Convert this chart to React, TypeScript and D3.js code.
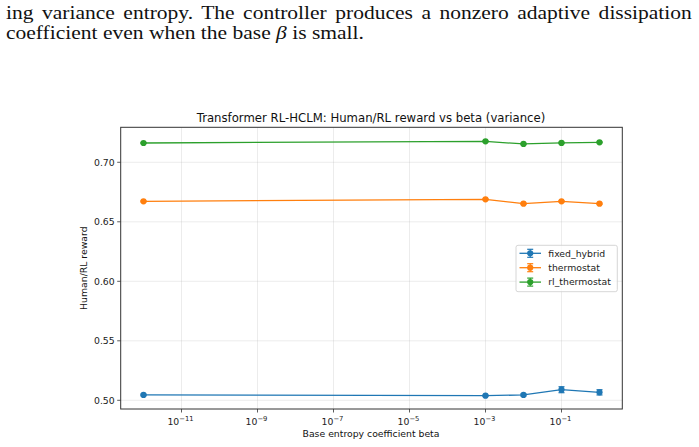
import React, { useLayoutEffect, useRef, useState } from 'react';
import * as d3 from 'd3';

// beta values swept (log scale) and the reward for each controller
const betas = [1e-12, 1e-3, 1e-2, 1e-1, 1];
const seriesNames = ['fixed_hybrid', 'thermostat', 'rl_thermostat'];
const fixedHybrid = [0.5045, 0.5039, 0.5045, 0.5089, 0.5067];
const fixedHybridErr = [0.0006, 0.0005, 0.0008, 0.0025, 0.0022];
const thermostat = [0.6672, 0.6689, 0.6652, 0.6672, 0.6652];
const thermostatErr = [0.0005, 0.0005, 0.0006, 0.0006, 0.0005];
const rlThermostat = [0.7162, 0.7176, 0.7154, 0.7163, 0.7168];
const rlThermostatErr = [0.0004, 0.0005, 0.0005, 0.0005, 0.0004];
const xTickExps = [-11, -9, -7, -5, -3, -1];
const yTicks = [0.5, 0.55, 0.6, 0.65, 0.7];

const paraLine1 = 'ing variance entropy. The controller produces a nonzero adaptive dissipation';
const paraLine2a = 'coefficient even when the base ';
const paraLine2b = ' is small.';

const colors = ['#1f77b4', '#ff7f0e', '#2ca02c'];
const values = [fixedHybrid, thermostat, rlThermostat];
const errors = [fixedHybridErr, thermostatErr, rlThermostatErr];

const W = 699;
const H = 447;
const plot = { left: 120.7, right: 622.3, top: 127.3, bottom: 409 };
const font = '"DejaVu Sans", sans-serif';
const tickSize = 9.3;

const App = () => {
  const line1Ref = useRef<SVGTextElement>(null);
  const line2Ref = useRef<SVGTextElement>(null);
  const [para, setPara] = useState({ k: 1, ws: 0 });

  // fit the paragraph: line 2 sets the glyph width, line 1 is justified with word spacing
  useLayoutEffect(() => {
    if (!line1Ref.current || !line2Ref.current) return;
    const w1 = line1Ref.current.getComputedTextLength();
    const w2 = line2Ref.current.getComputedTextLength();
    const k = 358 / w2;
    const spaces = paraLine1.split(' ').length - 1;
    const ws = Math.max(0, (686 / k - w1) / spaces);
    setPara({ k, ws });
  }, []);

  const x = d3.scaleLog().domain([10 ** -12.6, 10 ** 0.6]).range([plot.left, plot.right]);
  const y = d3.scaleLinear().domain([0.4927, 0.7294]).range([plot.bottom, plot.top]);

  const line = d3
    .line<number>()
    .x((_, i) => x(betas[i]))
    .y(d => y(d));

  const legendX = 516;
  const legendY = 245.3;

  return (
    <svg width={W} height={H} style={{ position: 'absolute', left: 0, top: 0, background: '#fff' }}>
      {/* paragraph text above the figure */}
      <g
        transform={`translate(6,0) scale(${para.k},1)`}
        fontFamily='"Liberation Serif", serif'
        fontSize={18}
        fill="#111"
      >
        <text ref={line1Ref} x={0} y={19} style={{ wordSpacing: para.ws + 'px' }}>
          {paraLine1}
        </text>
        <text ref={line2Ref} x={0} y={39.3} style={{ whiteSpace: 'pre' }}>
          {paraLine2a}
          <tspan fontStyle="italic">β</tspan>
          {paraLine2b}
        </text>
      </g>

      {/* grid */}
      <g stroke="#b0b0b0" strokeOpacity={0.3} strokeWidth={0.8}>
        {xTickExps.map(e => (
          <line key={'gx' + e} x1={x(10 ** e)} x2={x(10 ** e)} y1={plot.top} y2={plot.bottom} />
        ))}
        {yTicks.map(t => (
          <line key={'gy' + t} x1={plot.left} x2={plot.right} y1={y(t)} y2={y(t)} />
        ))}
      </g>

      {/* series with error bars */}
      {values.map((vals, si) => (
        <g key={seriesNames[si]} stroke={colors[si]} fill={colors[si]}>
          <path d={line(vals) || ''} fill="none" strokeWidth={1.3} />
          {vals.map((v, i) => {
            const cx = x(betas[i]);
            const e = errors[si][i];
            return (
              <g key={i}>
                <line x1={cx} x2={cx} y1={y(v - e)} y2={y(v + e)} strokeWidth={1.2} />
                <line x1={cx - 3} x2={cx + 3} y1={y(v - e)} y2={y(v - e)} strokeWidth={1.2} />
                <line x1={cx - 3} x2={cx + 3} y1={y(v + e)} y2={y(v + e)} strokeWidth={1.2} />
                <circle cx={cx} cy={y(v)} r={3.1} stroke="none" />
              </g>
            );
          })}
        </g>
      ))}

      {/* frame */}
      <rect
        x={plot.left}
        y={plot.top}
        width={plot.right - plot.left}
        height={plot.bottom - plot.top}
        fill="none"
        stroke="#333"
        strokeWidth={1}
      />

      {/* ticks */}
      <g fontFamily={font} fontSize={tickSize} fill="#222">
        {xTickExps.map(e => {
          const px = x(10 ** e);
          return (
            <g key={'xt' + e}>
              <line x1={px} x2={px} y1={plot.bottom} y2={plot.bottom + 3.5} stroke="#333" strokeWidth={0.8} />
              <text x={px - 1} y={plot.bottom + 16} textAnchor="middle">
                10
                <tspan fontSize={6.8} dy={-4.5}>
                  {'\u2212' + Math.abs(e)}
                </tspan>
              </text>
            </g>
          );
        })}
        {yTicks.map(t => (
          <g key={'yt' + t}>
            <line x1={plot.left - 3.5} x2={plot.left} y1={y(t)} y2={y(t)} stroke="#333" strokeWidth={0.8} />
            <text x={plot.left - 6} y={y(t) + 3.4} textAnchor="end">
              {d3.format('.2f')(t)}
            </text>
          </g>
        ))}
      </g>

      {/* title and axis labels */}
      <text x={371} y={121.5} textAnchor="middle" fontFamily={font} fontSize={11.7} fill="#111">
        Transformer RL-HCLM: Human/RL reward vs beta (variance)
      </text>
      <text x={371} y={437} textAnchor="middle" fontFamily={font} fontSize={tickSize} fill="#111">
        Base entropy coefficient beta
      </text>
      <text
        transform={`translate(86.5,${(plot.top + plot.bottom) / 2}) rotate(-90)`}
        textAnchor="middle"
        fontFamily={font}
        fontSize={tickSize}
        fill="#111"
      >
        Human/RL reward
      </text>

      {/* legend */}
      <g>
        <rect x={legendX} y={legendY} width={101.3} height={46.4} rx={2} fill="#fff" fillOpacity={0.8} stroke="#ccc" strokeWidth={0.8} />
        {seriesNames.map((name, i) => {
          const ly = legendY + 8 + i * 14.4;
          return (
            <g key={name} stroke={colors[i]} fill={colors[i]}>
              <line x1={legendX + 3.5} x2={legendX + 25} y1={ly} y2={ly} strokeWidth={1.3} />
              <line x1={legendX + 14.2} x2={legendX + 14.2} y1={ly - 4} y2={ly + 4} strokeWidth={1.2} />
              <line x1={legendX + 11.2} x2={legendX + 17.2} y1={ly - 4} y2={ly - 4} strokeWidth={1.2} />
              <line x1={legendX + 11.2} x2={legendX + 17.2} y1={ly + 4} y2={ly + 4} strokeWidth={1.2} />
              <circle cx={legendX + 14.2} cy={ly} r={3.1} stroke="none" />
              <text x={legendX + 32.3} y={ly + 3.3} stroke="none" fill="#222" fontFamily={font} fontSize={tickSize}>
                {name}
              </text>
            </g>
          );
        })}
      </g>
    </svg>
  );
};

export default App;
